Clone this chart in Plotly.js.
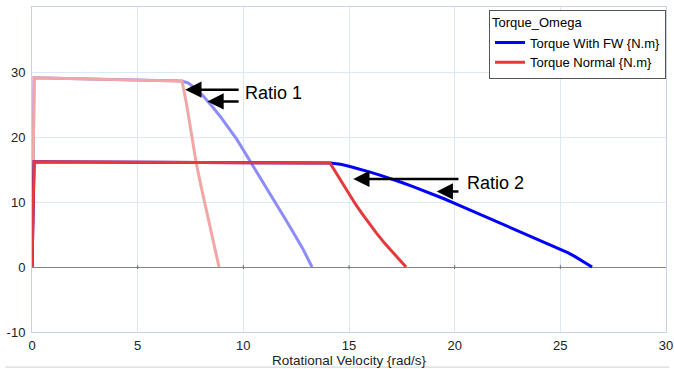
<!DOCTYPE html>
<html>
<head>
<meta charset="utf-8">
<script src="https://cdn.plot.ly/plotly-3.0.1.min.js"></script>
<style>html,body{margin:0;padding:0;background:#fff;overflow:hidden;}#chart{width:674px;height:369px;}</style>
</head>
<body>
<div id="chart"></div>
<script>
// Ratio 1 curves
var speedFW1  = [0, 0.1, 7.1, 7.4, 7.8, 8.1, 8.5, 8.9, 9.3, 9.7, 10.0, 10.4, 10.8, 11.2, 11.6, 12.0, 12.4, 12.8, 13.25];
var torqueFW1 = [0, 29.1, 28.6, 28.3, 27.3, 26.3, 24.8, 23.2, 21.4, 19.6, 18.0, 15.9, 13.7, 11.5, 9.4, 7.3, 5.1, 2.9, 0];
var speedN1   = [0, 0.1, 7.1, 7.3, 7.55, 7.77, 8.0, 8.3, 8.6, 8.85];
var torqueN1  = [0, 29.1, 28.6, 25.3, 20.4, 16.0, 12.4, 8.0, 3.6, 0];
// Ratio 2 curves
var speedFW2  = [0, 0.1, 14.1, 14.6, 15.0, 15.5, 16.0, 16.5, 17.0, 17.5, 18.0, 18.5, 19.0, 19.5, 20.0, 20.5, 21.0, 21.5, 22.0, 22.5, 23.0, 23.5, 24.0, 24.5, 25.0, 25.35, 25.7, 26.1, 26.5];
var torqueFW2 = [0, 16.2, 16.0, 15.8, 15.5, 15.1, 14.6, 14.1, 13.6, 13.0, 12.4, 11.8, 11.1, 10.5, 9.8, 9.1, 8.4, 7.7, 7.0, 6.3, 5.6, 4.9, 4.2, 3.5, 2.7, 2.2, 1.6, 0.85, 0];
var speedN2   = [0, 0.1, 14.1, 14.4, 14.7, 15.0, 15.3, 15.6, 15.9, 16.3, 16.7, 17.2, 17.7];
var torqueN2  = [0, 16.2, 16.0, 14.4, 12.8, 11.2, 9.7, 8.3, 6.9, 5.2, 3.6, 1.8, 0];

var seriesNames = ['Torque With FW {N.m}', 'Torque Normal {N.m}'];
var legendTitle = 'Torque_Omega';
var xTicks = [0, 5, 10, 15, 20, 25, 30];
var yTicks = [-10, 0, 10, 20, 30];
var xTitle = 'Rotational Velocity {rad/s}';

var FONT = 'Liberation Sans, Arial, sans-serif';

var traces = [
  {x: speedFW1, y: torqueFW1, mode: 'lines', line: {color: '#8c8cff', width: 3}, name: seriesNames[0], legendgroup: 'fw', showlegend: false},
  {x: speedN1, y: torqueN1, mode: 'lines', line: {color: '#f2a6a6', width: 3}, name: seriesNames[1], legendgroup: 'n', showlegend: false},
  {x: speedFW2, y: torqueFW2, mode: 'lines', line: {color: '#0000ff', width: 3}, name: seriesNames[0], legendgroup: 'fw', showlegend: true},
  {x: speedN2, y: torqueN2, mode: 'lines', line: {color: '#e6393b', width: 3}, name: seriesNames[1], legendgroup: 'n', showlegend: true}
];

var shapes = [
  {type: 'line', xref: 'paper', yref: 'paper', x0: -0.042, x1: 1.005, y0: -0.108, y1: -0.108, line: {color: '#d0d0d0', width: 1}}
];
xTicks.slice(1, -1).forEach(function (t) {
  shapes.push({type: 'line', xref: 'x', yref: 'y', ysizemode: 'pixel', yanchor: 0, x0: t, x1: t, y0: -2, y1: 2, line: {color: '#707070', width: 1}});
});

function arrow(xTip, yTip, xTail) {
  return {x: xTip, y: yTip, ax: xTail, ay: yTip, axref: 'x', ayref: 'y', xref: 'x', yref: 'y',
          text: '', showarrow: true, arrowhead: 2, arrowsize: 1.3, arrowwidth: 2.5, arrowcolor: '#000', standoff: 0, startstandoff: 0};
}

var annotations = [
  {x: 9.97, y: 26.8, xref: 'x', yref: 'y', text: 'Ratio 1', showarrow: false, xanchor: 'left', yanchor: 'middle', font: {family: FONT, size: 18, color: '#000'}},
  {x: 20.48, y: 12.97, xref: 'x', yref: 'y', text: 'Ratio 2', showarrow: false, xanchor: 'left', yanchor: 'middle', font: {family: FONT, size: 18, color: '#000'}},
  arrow(7.25, 27.28, 9.85),
  arrow(8.3, 25.48, 9.85),
  arrow(15.2, 13.54, 20.25),
  arrow(19.15, 11.63, 20.25)
];

var layout = {
  width: 674, height: 369,
  margin: {l: 31.5, r: 8, t: 7, b: 37, pad: 0},
  paper_bgcolor: '#fff', plot_bgcolor: '#fff',
  font: {family: FONT, size: 13, color: '#222'},
  showlegend: true,
  legend: {
    x: 1, y: 0.992, xanchor: 'right', yanchor: 'top',
    bgcolor: '#fff', bordercolor: '#555', borderwidth: 1,
    font: {family: FONT, size: 13, color: '#000'},
    title: {text: legendTitle, side: 'top', font: {family: FONT, size: 13, color: '#000'}},
    itemwidth: 30, tracegroupgap: 0
  },
  xaxis: {
    range: [0, 30], tickvals: xTicks, ticktext: xTicks.map(String),
    showgrid: true, gridcolor: '#dde8f5', gridwidth: 1,
    zeroline: false, showline: true, linecolor: '#c4d2e3', linewidth: 1, mirror: true,
    ticks: '', ticklabelstandoff: 1, ticklabeloverflow: 'allow',
    tickfont: {family: FONT, size: 13, color: '#222'},
    title: {text: xTitle, standoff: 1, font: {family: FONT, size: 13.5, color: '#222'}}
  },
  yaxis: {
    range: [-10, 40], tickvals: yTicks, ticktext: yTicks.map(String),
    showgrid: true, gridcolor: '#dde8f5', gridwidth: 1,
    zeroline: true, zerolinecolor: '#858585', zerolinewidth: 1,
    showline: true, linecolor: '#c4d2e3', linewidth: 1, mirror: true,
    ticks: '', ticklabelstandoff: 3,
    tickfont: {family: FONT, size: 13, color: '#222'}
  },
  shapes: shapes,
  annotations: annotations
};

Plotly.newPlot('chart', traces, layout, {displayModeBar: false, staticPlot: true});
</script>
</body>
</html>
